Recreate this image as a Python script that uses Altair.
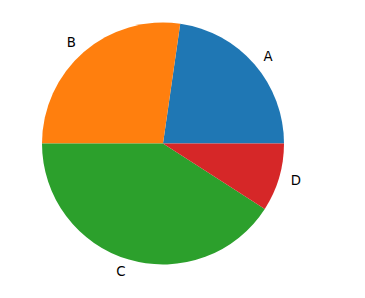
import math
import altair as alt
import pandas as pd

# Pie slices
labels = ["A", "B", "C", "D"]
values = [25, 30, 45, 10]
colors = ["#1f77b4", "#ff7f0e", "#2ca02c", "#d62728"]

total = sum(values)
start, end, mid = [], [], []
acc = 0
for v in values:
    start.append(acc)
    end.append(acc + v)
    mid.append(acc + v / 2)
    acc += v

df = pd.DataFrame({"label": labels, "value": values, "start": start, "end": end, "mid": mid})
df["side"] = ["left" if math.cos(2 * math.pi * m / total) > 0 else "right" for m in mid]

cx, cy, r = 163, 143.5, 121

# Counterclockwise from 3 o'clock, as in a classic pie
theta_scale = alt.Scale(domain=[0, total], range=[2.5 * math.pi, 0.5 * math.pi])

base = alt.Chart(df)

arcs = base.mark_arc(radius=r, stroke=None).encode(
    theta=alt.Theta("start:Q", scale=theta_scale),
    theta2="end:Q",
    color=alt.Color("label:N", scale=alt.Scale(domain=labels, range=colors), legend=None),
    x=alt.value(cx),
    y=alt.value(cy),
)

def label_layer(side):
    return base.transform_filter(alt.datum.side == side).mark_text(
        radius=r * 1.1, align=side, baseline="middle", font="DejaVu Sans", fontSize=13.3, color="black"
    ).encode(
        theta=alt.Theta("mid:Q", scale=theta_scale),
        text="label:N",
        x=alt.value(cx),
        y=alt.value(cy + 0.5),
    )

chart = alt.layer(arcs, label_layer("left"), label_layer("right")).properties(
    width=365, height=298, autosize=alt.AutoSizeParams(type="none"), padding=0,
    background="white",
).configure_view(stroke=None)

chart.save("out.html", embed_options={"renderer": "svg", "actions": False})
